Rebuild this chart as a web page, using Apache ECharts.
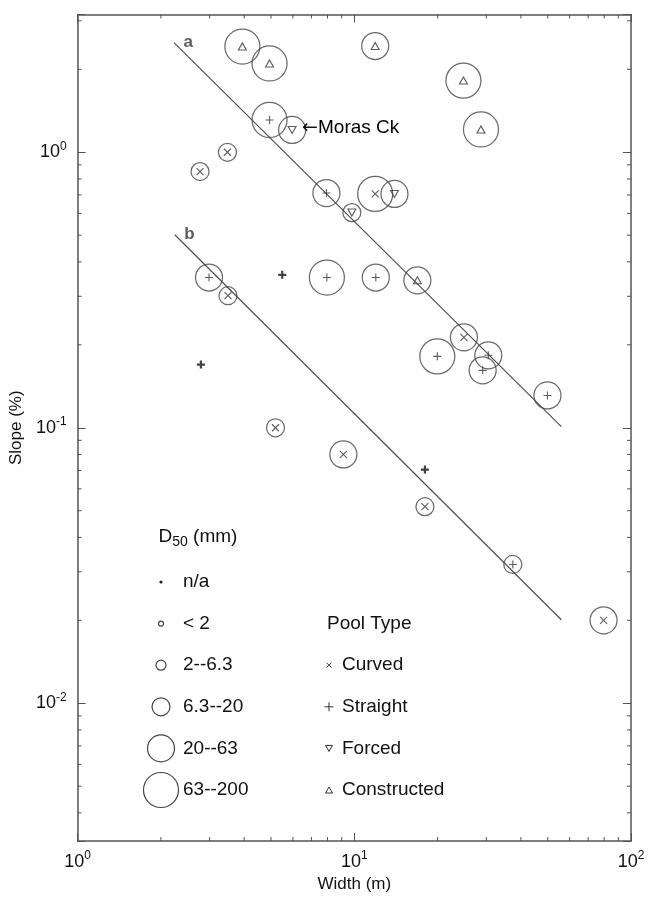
<!DOCTYPE html>
<html><head><meta charset="utf-8">
<script src="https://cdn.jsdelivr.net/npm/echarts@6/dist/echarts.min.js"></script>
<style>html,body{margin:0;padding:0;background:#fff}#c{width:649px;height:898px}</style>
</head><body><div id="c"></div>
<script>
// ---------------- data ----------------
const widths = [3.94, 4.94, 4.94, 5.96, 3.48, 2.77, 11.9, 24.8, 28.7, 7.93, 11.9, 13.97, 9.8,
  2.985, 3.495, 5.49, 7.96, 11.96, 16.9, 24.9, 19.95, 30.5, 29.1, 49.9,
  2.79, 5.19, 9.13, 18.0, 18.0, 37.4, 79.6];
const slopes = [2.42, 2.10, 1.31, 1.205, 1.00, 0.851, 2.43, 1.82, 1.21, 0.711, 0.706, 0.706, 0.604,
  0.351, 0.3015, 0.359, 0.351, 0.351, 0.343, 0.213, 0.1816, 0.1832, 0.1616, 0.131,
  0.1695, 0.100, 0.080, 0.0705, 0.0517, 0.0319, 0.020];
const d50Class = ['63-200','63-200','63-200','20-63','6.3-20','6.3-20','20-63','63-200','63-200','20-63','63-200','20-63','6.3-20',
  '20-63','6.3-20','n/a','63-200','20-63','20-63','20-63','63-200','20-63','20-63','20-63',
  'n/a','6.3-20','20-63','n/a','6.3-20','6.3-20','20-63'];
const poolType = ['Constructed','Constructed','Straight','Forced','Curved','Curved','Constructed','Constructed','Constructed','Straight','Curved','Forced','Forced',
  'Straight','Curved','Straight','Straight','Straight','Constructed','Curved','Straight','Straight','Straight','Straight',
  'Straight','Curved','Curved','Straight','Curved','Straight','Curved'];
const siteNames = ['','','','Moras Ck','','','','','','','','','','','','','','','','','','','','','','','','','','',''];

const fitNames = ['a', 'b'];
const fitWidths = [[2.23, 56], [2.245, 56]];
const fitSlopes = [[2.5, 0.101], [0.502, 0.0201]];

const xMinorTicks = [2,3,4,5,6,7,8,9,20,30,40,50,60,70,80,90];
const yMinorTicks = [0.004,0.005,0.006,0.007,0.008,0.009,0.02,0.03,0.04,0.05,0.06,0.07,0.08,0.09,
  0.2,0.3,0.4,0.5,0.6,0.7,0.8,0.9,2,3];

const d50Legend = ['n/a', '< 2', '2--6.3', '6.3--20', '20--63', '63--200'];
const d50Keys = ['n/a', '<2', '2-6.3', '6.3-20', '20-63', '63-200'];
const poolLegend = ['Curved', 'Straight', 'Forced', 'Constructed'];

// ---------------- styling ----------------
const FONT = 'Liberation Sans, Arial, Helvetica, sans-serif';
const INK = '#454545';
const TXT = '#111';
const LFS = 19;
const circleDiam = {'<2': 5, '2-6.3': 10, '6.3-20': 18, '20-63': 27, '63-200': 35};
const poolSymbol = {
  Curved: 'path://M0,0L10,10M10,0L0,10',
  Straight: 'path://M5,0L5,10M0,5L10,5',
  Forced: 'path://M0,0L10,0L5,9Z',
  Constructed: 'path://M5,0L10,9L0,9Z'
};
const poolSize = {Curved: 7, Straight: 8, Forced: [8, 7], Constructed: [8, 7]};

function supLabel(v) {
  const l = Math.log10(v);
  const e = Math.round(l);
  if (Math.abs(l - e) > 1e-6) return '';
  return '{b|10}{s|' + e + '}';
}
const supRich = {
  b: {fontSize: 18, fontFamily: FONT, color: TXT, lineHeight: 24},
  s: {fontSize: 12, fontFamily: FONT, color: TXT, verticalAlign: 'top', lineHeight: 13}
};

const chart = echarts.init(document.getElementById('c'), null, {renderer: 'canvas'});

const series = [];
// circles (D50 size)
series.push({
  type: 'scatter', name: 'd50', z: 2, silent: true,
  data: widths.map((w, i) => d50Class[i] === 'n/a' ? null : [w, slopes[i], d50Class[i]]).filter(d => d),
  symbol: 'circle',
  symbolSize: v => circleDiam[v[2]],
  itemStyle: {color: 'rgba(0,0,0,0)', borderColor: INK, borderWidth: 1.25}
});
// pool-type markers
poolLegend.forEach(pt => {
  const data = [];
  widths.forEach((w, i) => {
    if (poolType[i] !== pt) return;
    const na = d50Class[i] === 'n/a';
    data.push({value: [w, slopes[i]], itemStyle: {borderWidth: na ? 2.2 : 1.1, borderColor: na ? '#111' : '#333'}});
  });
  series.push({
    type: 'scatter', name: pt, z: 3, silent: true, data,
    symbol: poolSymbol[pt], symbolSize: poolSize[pt],
    itemStyle: {color: 'rgba(0,0,0,0)', borderColor: '#333', borderWidth: 1.1}
  });
});
// fitted lines
fitNames.forEach((n, k) => {
  series.push({
    type: 'line', name: 'fit ' + n, z: 1, silent: true, showSymbol: false, symbol: 'none',
    data: fitWidths[k].map((w, j) => [w, fitSlopes[k][j]]),
    lineStyle: {color: '#505050', width: 1.2}
  });
});
series.push({
  type: 'scatter', name: 'fitLabels', z: 4, silent: true, symbolSize: 1,
  itemStyle: {color: 'rgba(0,0,0,0)'},
  data: fitNames.map((n, k) => ({name: n, value: [fitWidths[k][0], fitSlopes[k][0]]})),
  label: {show: true, position: 'right', distance: 9, offset: [0, 0], formatter: p => p.name,
    fontSize: 17, fontWeight: 'bold', fontFamily: FONT, color: '#333'}
});
// minor ticks (drawn via axes' scales)
series.push({
  type: 'custom', name: 'minorX', silent: true, z: 5,
  data: xMinorTicks.map(v => [v, 1]),
  renderItem: (params, api) => {
    const x = api.coord([api.value(0), 1])[0];
    const cs = params.coordSys;
    const st = {stroke: '#555', lineWidth: 1};
    return {type: 'group', children: [
      {type: 'line', shape: {x1: x, y1: cs.y + cs.height, x2: x, y2: cs.y + cs.height - 4}, style: st},
      {type: 'line', shape: {x1: x, y1: cs.y, x2: x, y2: cs.y + 4}, style: st}
    ]};
  }
});
series.push({
  type: 'custom', name: 'minorY', silent: true, z: 5,
  data: yMinorTicks.map(v => [10, v]),
  renderItem: (params, api) => {
    const y = api.coord([10, api.value(1)])[1];
    const cs = params.coordSys;
    const st = {stroke: '#555', lineWidth: 1};
    return {type: 'group', children: [
      {type: 'line', shape: {x1: cs.x, y1: y, x2: cs.x + 4, y2: y}, style: st},
      {type: 'line', shape: {x1: cs.x + cs.width, y1: y, x2: cs.x + cs.width - 4, y2: y}, style: st}
    ]};
  }
});

const axisLine = {show: true, onZero: false, lineStyle: {color: '#555', width: 1.5}};
const majorTick = {show: true, inside: true, length: 8, lineStyle: {color: '#555', width: 1}};
const X_MIN = 1, X_MAX = 100, Y_MIN = 0.0031623, Y_MAX = 3.1623;

// ---------------- legend graphics ----------------
const graphic = [];
const legX = 161, legTextX = 183, legY0 = 582, legDY = 41.6;
graphic.push({type: 'text', x: 158.5, y: 537, style: {
  text: '{a|D}{s|50}{a| (mm)}', verticalAlign: 'middle', align: 'left',
  rich: {a: {fontSize: LFS, fontFamily: FONT, fill: TXT, lineHeight: 20},
         s: {fontSize: 14, fontFamily: FONT, fill: TXT, padding: [10, 0, 0, 0], lineHeight: 14}}
}});
d50Legend.forEach((lab, i) => {
  const cy = legY0 + i * legDY;
  const key = d50Keys[i];
  if (key === 'n/a') {
    graphic.push({type: 'circle', shape: {cx: legX, cy: cy, r: 1.6}, style: {fill: '#222'}});
  } else {
    graphic.push({type: 'circle', shape: {cx: legX, cy: cy, r: circleDiam[key] / 2},
      style: {fill: 'none', stroke: INK, lineWidth: 1.2}});
  }
  graphic.push({type: 'text', x: legTextX, y: cy, style: {text: lab, fontSize: LFS, fontFamily: FONT,
    fill: TXT, verticalAlign: 'middle', align: 'left'}});
});
graphic.push({type: 'text', x: 327, y: legY0 + legDY, style: {text: 'Pool Type', fontSize: LFS,
  fontFamily: FONT, fill: TXT, verticalAlign: 'middle', align: 'left'}});
poolLegend.forEach((lab, i) => {
  const cy = legY0 + (i + 2) * legDY;
  const sx = 329;
  const st = {stroke: '#333', lineWidth: 1, fill: 'none'};
  if (lab === 'Curved') {
    graphic.push({type: 'line', shape: {x1: sx - 2.5, y1: cy - 2.5, x2: sx + 2.5, y2: cy + 2.5}, style: st});
    graphic.push({type: 'line', shape: {x1: sx - 2.5, y1: cy + 2.5, x2: sx + 2.5, y2: cy - 2.5}, style: st});
  } else if (lab === 'Straight') {
    graphic.push({type: 'line', shape: {x1: sx - 4.5, y1: cy, x2: sx + 4.5, y2: cy}, style: st});
    graphic.push({type: 'line', shape: {x1: sx, y1: cy - 4.5, x2: sx, y2: cy + 4.5}, style: st});
  } else if (lab === 'Forced') {
    graphic.push({type: 'polygon', shape: {points: [[sx - 3.5, cy - 3], [sx + 3.5, cy - 3], [sx, cy + 3]]}, style: st});
  } else {
    graphic.push({type: 'polygon', shape: {points: [[sx, cy - 3], [sx + 3.5, cy + 3], [sx - 3.5, cy + 3]]}, style: st});
  }
  graphic.push({type: 'text', x: 342, y: cy, style: {text: lab, fontSize: LFS, fontFamily: FONT,
    fill: TXT, verticalAlign: 'middle', align: 'left'}});
});

chart.setOption({
  animation: false,
  backgroundColor: '#fff',
  grid: {left: 76.5, right: 18, top: 14.5, bottom: 56, containLabel: false},
  xAxis: [
    {type: 'log', logBase: 10, min: X_MIN, max: X_MAX, position: 'bottom',
     axisLine, axisTick: majorTick, splitLine: {show: false}, minorTick: {show: false},
     axisLabel: {formatter: supLabel, rich: supRich, margin: 9, showMinLabel: true, showMaxLabel: true},
     name: 'Width (m)', nameLocation: 'middle', nameGap: 35,
     nameTextStyle: {fontSize: 17, fontFamily: FONT, color: TXT}},
    {type: 'log', logBase: 10, min: X_MIN, max: X_MAX, position: 'top',
     axisLine, axisTick: majorTick, axisLabel: {show: false}, splitLine: {show: false}}
  ],
  yAxis: [
    {type: 'log', logBase: 10, min: Y_MIN, max: Y_MAX, position: 'left',
     axisLine, axisTick: majorTick, splitLine: {show: false},
     axisLabel: {formatter: supLabel, rich: supRich, margin: 11},
     name: 'Slope (%)', nameLocation: 'middle', nameGap: 44,
     nameTextStyle: {fontSize: 17, fontFamily: FONT, color: TXT}},
    {type: 'log', logBase: 10, min: Y_MIN, max: Y_MAX, position: 'right',
     axisLine, axisTick: majorTick, axisLabel: {show: false}, splitLine: {show: false}}
  ],
  series,
  graphic
});

// site annotation anchored to its data point through the chart's scales
widths.forEach((w, i) => {
  if (!siteNames[i]) return;
  const p = chart.convertToPixel({gridIndex: 0}, [w, slopes[i]]);
  graphic.push({type: 'text', x: p[0] + 10, y: p[1] - 2, z: 10, style: {
    text: '{arr|\u2190}{t|' + siteNames[i] + '}', verticalAlign: 'middle', align: 'left',
    rich: {arr: {fontFamily: 'DejaVu Sans', fontSize: 19, fill: '#111'},
           t: {fontFamily: FONT, fontSize: LFS, fill: '#000'}}
  }});
});
chart.setOption({graphic});
</script>
</body></html>
